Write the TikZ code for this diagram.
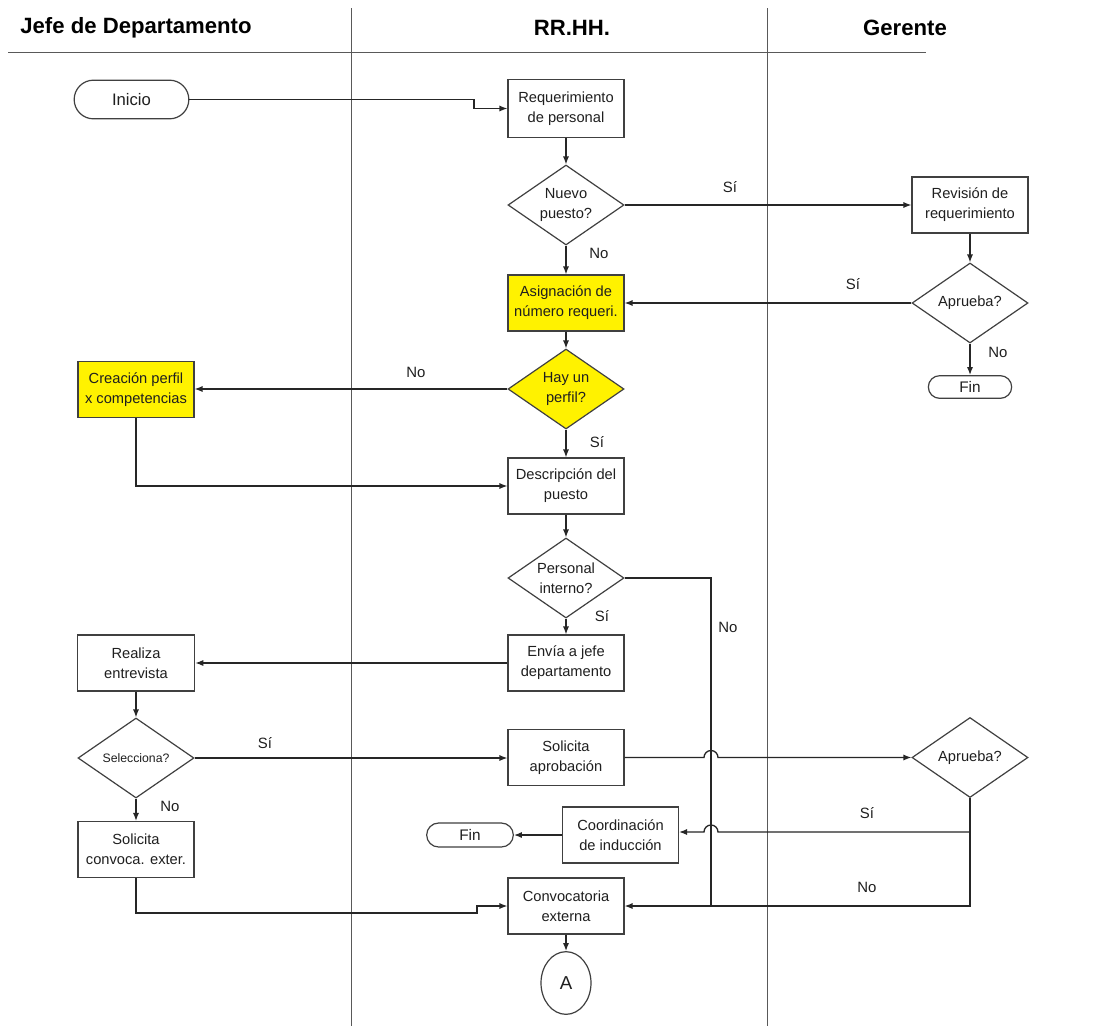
\documentclass[tikz,border=0pt]{standalone}
\usepackage{fontspec}
\setmainfont{Liberation Sans}
\usetikzlibrary{shapes.geometric,shapes.misc,arrows.meta}
\begin{document}
\begin{tikzpicture}[x=0.75pt,y=-0.75pt,
  every node/.style={font=\fontsize{11}{15}\selectfont, text=black!88},
  outline/.style={draw=black!75, line width=0.9pt},
  box/.style={outline, fill=white, align=center, minimum width=87pt, minimum height=42pt, inner sep=1pt},
  hl/.style={fill=yellow},
  dec/.style={outline, diamond, aspect=1.45, fill=white, align=center, minimum width=87pt, minimum height=60pt, inner sep=0pt},
  term/.style={outline, rounded rectangle, fill=white, minimum width=64.5pt, minimum height=17pt, inner sep=1pt, font=\fontsize{11.5}{14}\selectfont},
  conn/.style={outline, ellipse, minimum width=37.5pt, minimum height=47pt, font=\fontsize{14}{16}\selectfont},
  flow/.style={draw=black!85, line width=1pt},
  arr/.style={flow, -{Latex[length=6pt,width=4.6pt]}},
  lbl/.style={font=\fontsize{11.2}{13}\selectfont, inner sep=0pt},
  lane/.style={draw=black!65, line width=0.7pt},
  lanetitle/.style={font=\fontsize{16.6}{18}\selectfont\bfseries, text=black, inner sep=0pt}
]
\useasboundingbox (0,0) rectangle (1108,1026);
\fill[white] (0,0) rectangle (1108,1026);

% swimlanes
\draw[lane] (351,8) -- (351,1026);
\draw[lane] (767,8) -- (767,1026);
\draw[lane] (8,52) -- (926,52);
\node[lanetitle] (t1) at (136,28) {Jefe de Departamento};
\node[lanetitle] (t2) at (572,28) {RR.HH.};
\node[lanetitle] (t3) at (905,28) {Gerente};

% nodes
\node[term, minimum width=88pt, minimum height=29pt, font=\fontsize{12.5}{14}\selectfont] (ini) at (131.5,99.5) {Inicio};
\node[box, minimum height=43pt] (req) at (566,108.5) {Requerimiento\\de personal};
\node[dec] (np) at (566,205) {Nuevo\\puesto?};
\node[box] (rev) at (970,205) {Revisión de\\requerimiento};
\node[box, hl] (asig) at (566,303) {Asignación de\\número requeri.};
\node[dec] (ap1) at (970,303) {Aprueba?};
\node[term] (fin1) at (970,387) {Fin};
\node[dec, hl] (hup) at (566,389) {Hay un\\perfil?};
\node[box, hl] (crea) at (136,389.5) {Creación perfil\\x competencias};
\node[box] (desc) at (566,486) {Descripción del\\puesto};
\node[dec] (pi) at (566,578) {Personal\\interno?};
\node[box] (env) at (566,663) {Envía a jefe\\departamento};
\node[box, minimum width=88pt] (real) at (136,663) {Realiza\\entrevista};
\node[dec, font=\fontsize{9.2}{11}\selectfont] (sel) at (136,758) {Selecciona?};
\node[box] (sol) at (566,757.5) {Solicita\\aprobación};
\node[dec] (ap2) at (970,757.5) {Aprueba?};
\node[box] (coord) at (620.5,835) {Coordinación\\de inducción};
\node[term, minimum width=67pt, minimum height=18pt] (fin2) at (470,835) {Fin};
\node[box] (sce) at (136,849.5) {Solicita\\convoca. exter.};
\node[box] (conv) at (566,906) {Convocatoria\\externa};
\node[conn] (A) at (566,983) {A};

% junction points
\coordinate (s1) at (474,99.5);
\coordinate (s2) at (474,108.5);
\coordinate (pj) at (711,906);
\coordinate (aj) at (970,832);
\coordinate (c1) at (136,913);
\coordinate (c2) at (477,913);
\coordinate (c3) at (477,906);

% connectors
\draw[arr] (ini.east) -- (s1) -- (s2) -- (req.west);
\draw[arr] (req.south) -- (np.north);
\draw[arr] (np.east) -- (rev.west);
\draw[arr] (np.south) -- (asig.north);
\draw[arr] (rev.south) -- (ap1.north);
\draw[arr] (ap1.west) -- (asig.east);
\draw[arr] (ap1.south) -- (fin1.north);
\draw[arr] (asig.south) -- (hup.north);
\draw[arr] (hup.west) -- (hup.west -| crea.east);
\draw[arr] (hup.south) -- (desc.north);
\draw[arr] (crea.south) |- (desc.west);
\draw[arr] (desc.south) -- (pi.north);
\draw[arr] (pi.south) -- (env.north);
\draw[flow] (pi.east) -| (pj);
\draw[arr] (env.west) -- (real.east);
\draw[arr] (real.south) -- (sel.north);
\draw[arr] (sel.east) -- (sel.east -| sol.west);
\draw[arr] (sel.south) -- (sce.north);
\draw[arr] (sol.east) -- (704,757.5) arc[start angle=180, end angle=0, radius=5.25pt] -- (ap2.west);
\draw[arr] (ap2.south) |- (conv.east);
\draw[arr] (aj) -- (718,832) arc[start angle=0, end angle=180, radius=5.25pt] -- (coord.east |- aj);
\draw[arr] (coord.west) -- (fin2.east);
\draw[arr] (sce.south) -- (c1) -- (c2) -- (c3) -- (conv.west);
\draw[arr] (conv.south) -- (A.north);

% branch labels
\node[lbl] (l1) at (730,187) {Sí};
\node[lbl] (l2) at (599,253) {No};
\node[lbl] (l3) at (853,284) {Sí};
\node[lbl] (l4) at (998,352) {No};
\node[lbl] (l5) at (416,372) {No};
\node[lbl] (l6) at (597,442) {Sí};
\node[lbl] (l7) at (602,616) {Sí};
\node[lbl] (l8) at (728,627) {No};
\node[lbl] (l9) at (265,743) {Sí};
\node[lbl] (l10) at (170,806) {No};
\node[lbl] (l11) at (867,813) {Sí};
\node[lbl] (l12) at (867,887) {No};
\end{tikzpicture}
\end{document}
